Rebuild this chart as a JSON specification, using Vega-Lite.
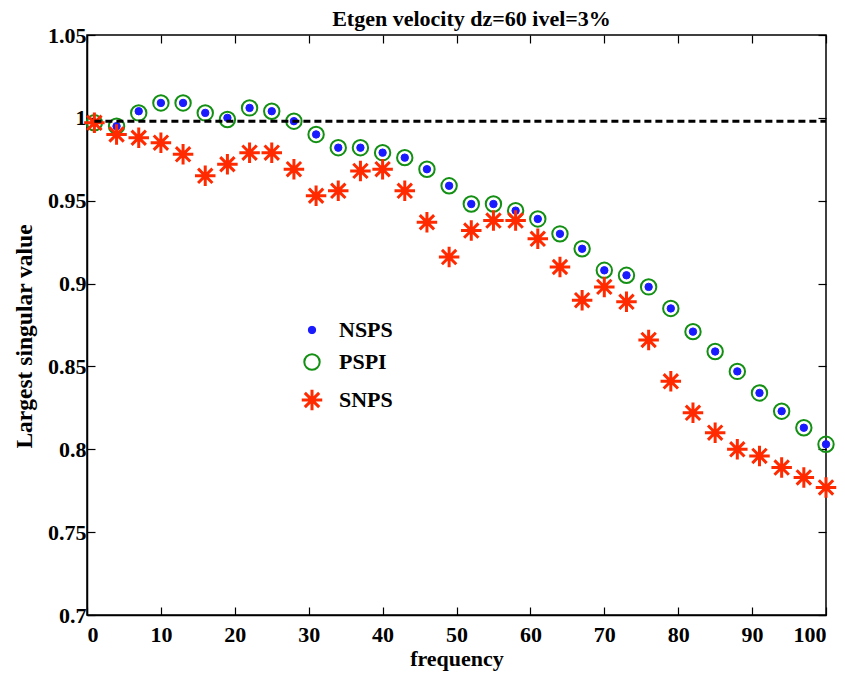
{
  "$schema": "https://vega.github.io/schema/vega-lite/v6.json",
  "width": 739,
  "height": 580,
  "autosize": {"type": "none"},
  "padding": {"left": 87, "top": 35, "right": 19, "bottom": 58},
  "background": "white",
  "title": {"text": "Etgen velocity dz=60 ivel=3%", "font": "Liberation Serif", "fontSize": 22, "fontWeight": "bold", "color": "black", "baseline": "bottom", "offset": 6, "dx": 15, "dy": 35, "anchor": "middle", "frame": "group"},
  "config": {
    "view": {"stroke": "black", "strokeWidth": 1.5},
    "axis": {"domainColor": "black", "domainWidth": 1.5, "tickColor": "black", "tickWidth": 1.2, "tickSize": -8, "grid": false,
      "labelFont": "Liberation Serif", "labelFontSize": 22, "labelFontWeight": "bold", "labelColor": "black",
      "titleFont": "Liberation Serif", "titleFontSize": 22, "titleFontWeight": "bold", "titleColor": "black"},
    "legend": {"labelFont": "Liberation Serif", "labelFontSize": 22, "labelFontWeight": "bold", "labelColor": "black"}
  },
  "datasets": {
    "pts": [
      {"f": 1, "v": 0.997, "s": "NSPS"}, {"f": 4, "v": 0.995, "s": "NSPS"}, {"f": 7, "v": 1.004, "s": "NSPS"}, {"f": 10, "v": 1.009, "s": "NSPS"},
      {"f": 13, "v": 1.009, "s": "NSPS"}, {"f": 16, "v": 1.003, "s": "NSPS"}, {"f": 19, "v": 1.0, "s": "NSPS"}, {"f": 22, "v": 1.006, "s": "NSPS"},
      {"f": 25, "v": 1.004, "s": "NSPS"}, {"f": 28, "v": 0.998, "s": "NSPS"}, {"f": 31, "v": 0.99, "s": "NSPS"}, {"f": 34, "v": 0.982, "s": "NSPS"},
      {"f": 37, "v": 0.982, "s": "NSPS"}, {"f": 40, "v": 0.979, "s": "NSPS"}, {"f": 43, "v": 0.976, "s": "NSPS"}, {"f": 46, "v": 0.969, "s": "NSPS"},
      {"f": 49, "v": 0.959, "s": "NSPS"}, {"f": 52, "v": 0.948, "s": "NSPS"}, {"f": 55, "v": 0.948, "s": "NSPS"}, {"f": 58, "v": 0.944, "s": "NSPS"},
      {"f": 61, "v": 0.939, "s": "NSPS"}, {"f": 64, "v": 0.93, "s": "NSPS"}, {"f": 67, "v": 0.921, "s": "NSPS"}, {"f": 70, "v": 0.908, "s": "NSPS"},
      {"f": 73, "v": 0.905, "s": "NSPS"}, {"f": 76, "v": 0.898, "s": "NSPS"}, {"f": 79, "v": 0.885, "s": "NSPS"}, {"f": 82, "v": 0.871, "s": "NSPS"},
      {"f": 85, "v": 0.859, "s": "NSPS"}, {"f": 88, "v": 0.847, "s": "NSPS"}, {"f": 91, "v": 0.834, "s": "NSPS"}, {"f": 94, "v": 0.823, "s": "NSPS"},
      {"f": 97, "v": 0.813, "s": "NSPS"}, {"f": 100, "v": 0.803, "s": "NSPS"},
      {"f": 1, "v": 0.997, "s": "PSPI"}, {"f": 4, "v": 0.995, "s": "PSPI"}, {"f": 7, "v": 1.003, "s": "PSPI"}, {"f": 10, "v": 1.009, "s": "PSPI"},
      {"f": 13, "v": 1.009, "s": "PSPI"}, {"f": 16, "v": 1.003, "s": "PSPI"}, {"f": 19, "v": 0.999, "s": "PSPI"}, {"f": 22, "v": 1.006, "s": "PSPI"},
      {"f": 25, "v": 1.004, "s": "PSPI"}, {"f": 28, "v": 0.998, "s": "PSPI"}, {"f": 31, "v": 0.99, "s": "PSPI"}, {"f": 34, "v": 0.982, "s": "PSPI"},
      {"f": 37, "v": 0.982, "s": "PSPI"}, {"f": 40, "v": 0.979, "s": "PSPI"}, {"f": 43, "v": 0.976, "s": "PSPI"}, {"f": 46, "v": 0.969, "s": "PSPI"},
      {"f": 49, "v": 0.959, "s": "PSPI"}, {"f": 52, "v": 0.948, "s": "PSPI"}, {"f": 55, "v": 0.948, "s": "PSPI"}, {"f": 58, "v": 0.944, "s": "PSPI"},
      {"f": 61, "v": 0.939, "s": "PSPI"}, {"f": 64, "v": 0.93, "s": "PSPI"}, {"f": 67, "v": 0.921, "s": "PSPI"}, {"f": 70, "v": 0.908, "s": "PSPI"},
      {"f": 73, "v": 0.905, "s": "PSPI"}, {"f": 76, "v": 0.898, "s": "PSPI"}, {"f": 79, "v": 0.885, "s": "PSPI"}, {"f": 82, "v": 0.871, "s": "PSPI"},
      {"f": 85, "v": 0.859, "s": "PSPI"}, {"f": 88, "v": 0.847, "s": "PSPI"}, {"f": 91, "v": 0.834, "s": "PSPI"}, {"f": 94, "v": 0.823, "s": "PSPI"},
      {"f": 97, "v": 0.813, "s": "PSPI"}, {"f": 100, "v": 0.803, "s": "PSPI"},
      {"f": 1, "v": 0.997, "s": "SNPS"}, {"f": 4, "v": 0.99, "s": "SNPS"}, {"f": 7, "v": 0.988, "s": "SNPS"}, {"f": 10, "v": 0.985, "s": "SNPS"},
      {"f": 13, "v": 0.978, "s": "SNPS"}, {"f": 16, "v": 0.965, "s": "SNPS"}, {"f": 19, "v": 0.972, "s": "SNPS"}, {"f": 22, "v": 0.979, "s": "SNPS"},
      {"f": 25, "v": 0.979, "s": "SNPS"}, {"f": 28, "v": 0.969, "s": "SNPS"}, {"f": 31, "v": 0.953, "s": "SNPS"}, {"f": 34, "v": 0.956, "s": "SNPS"},
      {"f": 37, "v": 0.968, "s": "SNPS"}, {"f": 40, "v": 0.969, "s": "SNPS"}, {"f": 43, "v": 0.956, "s": "SNPS"}, {"f": 46, "v": 0.937, "s": "SNPS"},
      {"f": 49, "v": 0.916, "s": "SNPS"}, {"f": 52, "v": 0.932, "s": "SNPS"}, {"f": 55, "v": 0.938, "s": "SNPS"}, {"f": 58, "v": 0.938, "s": "SNPS"},
      {"f": 61, "v": 0.927, "s": "SNPS"}, {"f": 64, "v": 0.91, "s": "SNPS"}, {"f": 67, "v": 0.89, "s": "SNPS"}, {"f": 70, "v": 0.898, "s": "SNPS"},
      {"f": 73, "v": 0.889, "s": "SNPS"}, {"f": 76, "v": 0.866, "s": "SNPS"}, {"f": 79, "v": 0.841, "s": "SNPS"}, {"f": 82, "v": 0.822, "s": "SNPS"},
      {"f": 85, "v": 0.81, "s": "SNPS"}, {"f": 88, "v": 0.8, "s": "SNPS"}, {"f": 91, "v": 0.796, "s": "SNPS"}, {"f": 94, "v": 0.789, "s": "SNPS"},
      {"f": 97, "v": 0.783, "s": "SNPS"}, {"f": 100, "v": 0.777, "s": "SNPS"}
    ],
    "ref": [{"x1": 1, "x2": 100, "y": 0.998}]
  },
  "layer": [
    {
      "data": {"name": "pts"},
      "mark": {"type": "point", "opacity": 1},
      "encoding": {
        "x": {"field": "f", "type": "quantitative", "scale": {"domain": [0, 100], "nice": false},
          "axis": {"orient": "bottom", "values": [0, 10, 20, 30, 40, 50, 60, 70, 80, 90, 100], "labelPadding": 17, "title": "frequency", "titleBaseline": "alphabetic", "titleY": 50}},
        "y": {"field": "v", "type": "quantitative", "scale": {"domain": [0.7, 1.05], "nice": false, "zero": false},
          "axis": {"orient": "left", "values": [0.7, 0.75, 0.8, 0.85, 0.9, 0.95, 1, 1.05], "format": "~g", "labelPadding": 9, "title": "Largest singular value", "titleFontSize": 23.5, "titleBaseline": "alphabetic", "titleX": -56, "titleY": 301, "titleAngle": 270}},
        "fill": {"field": "s", "type": "nominal", "scale": {"domain": ["NSPS", "PSPI", "SNPS"], "range": ["#1a1aff", "transparent", "transparent"]},
          "legend": {"title": null, "orient": "none", "legendX": 213, "legendY": 284, "padding": 0, "rowPadding": 9, "labelOffset": 15}},
        "stroke": {"field": "s", "type": "nominal", "scale": {"domain": ["NSPS", "PSPI", "SNPS"], "range": ["#1a1aff", "#138f13", "#ff2a00"]}},
        "shape": {"field": "s", "type": "nominal", "scale": {"domain": ["NSPS", "PSPI", "SNPS"], "range": ["circle", "circle", "M-1,0L1,0M0,-1L0,1M-0.7,-0.7L0.7,0.7M-0.7,0.7L0.7,-0.7"]}},
        "size": {"field": "s", "type": "nominal", "scale": {"domain": ["NSPS", "PSPI", "SNPS"], "range": [55, 420, 576]}},
        "strokeWidth": {"field": "s", "type": "nominal", "scale": {"domain": ["NSPS", "PSPI", "SNPS"], "range": [1, 3, 3]}}
      }
    },
    {
      "data": {"name": "ref"},
      "mark": {"type": "rule", "color": "black", "strokeWidth": 3, "strokeDash": [7, 4]},
      "encoding": {
        "x": {"field": "x1", "type": "quantitative", "axis": null},
        "x2": {"field": "x2"},
        "y": {"field": "y", "type": "quantitative", "axis": null}
      }
    },
    {
      "data": {"name": "pts"},
      "mark": {"type": "point", "opacity": 0},
      "encoding": {
        "x": {"field": "f", "type": "quantitative", "axis": {"orient": "top", "values": [0, 10, 20, 30, 40, 50, 60, 70, 80, 90, 100], "labels": false, "title": null, "domain": false}},
        "y": {"field": "v", "type": "quantitative", "axis": {"orient": "right", "values": [0.7, 0.75, 0.8, 0.85, 0.9, 0.95, 1, 1.05], "labels": false, "title": null, "domain": false}}
      }
    }
  ],
  "resolve": {"axis": {"x": "independent", "y": "independent"}}
}
